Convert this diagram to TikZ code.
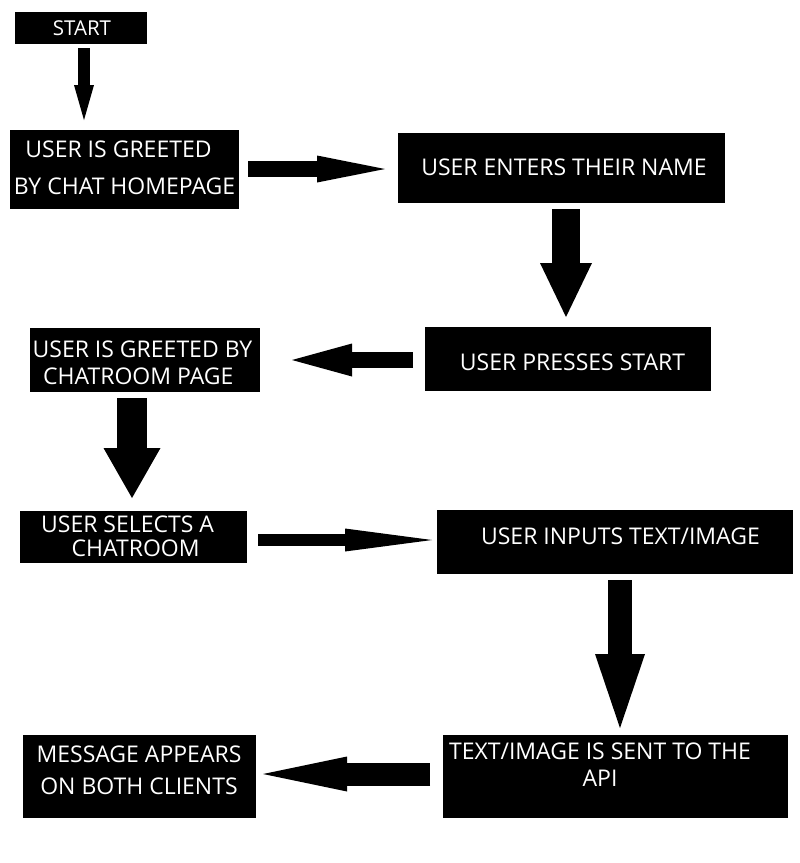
\documentclass[tikz,border=0pt]{standalone}
\usepackage{fontspec}
\setmainfont{Open Sans}
\usetikzlibrary{arrows.meta}
\newcommand\boxtext[3]{\raisebox{#2}[0pt][0pt]{\makebox[0pt][c]{\hspace*{#1}\hspace*{#1}\begin{tabular}[b]{@{}c@{}}#3\end{tabular}}}}
\tikzset{
  box/.style={fill=black, text=white, inner sep=0pt},
  barrow/.style n args={3}{draw=black, line width=#1, -{Triangle[width=#2, length=#3, line width=0pt]}}
}
\begin{document}
\begin{tikzpicture}[x=1pt, y=-1pt]
\fill[white] (0,0) rectangle (800,863);
\useasboundingbox (0,0) rectangle (800,863);

\node[box, minimum width=131.7pt, minimum height=32pt, font=\fontsize{20.5}{24}\selectfont] (start) at (80.8,28) {\boxtext{1.2pt}{-7pt}{START}};
\node[box, minimum width=229pt, minimum height=79pt, font=\fontsize{23}{37}\selectfont] (home) at (124.5,169.5) {\boxtext{0pt}{-25pt}{USER IS GREETED\hspace*{12pt}\\BY CHAT HOMEPAGE}};
\node[box, minimum width=327pt, minimum height=70pt, font=\fontsize{23}{27}\selectfont] (name) at (561.5,168) {\boxtext{2.5pt}{-7pt}{USER ENTERS THEIR NAME}};
\node[box, minimum width=286pt, minimum height=64pt, font=\fontsize{23}{27}\selectfont] (press) at (568,359) {\boxtext{4.5pt}{-11pt}{USER PRESSES START}};
\node[box, minimum width=230pt, minimum height=64pt, font=\fontsize{23}{27}\selectfont] (room) at (145,360) {\boxtext{-2.5pt}{-24pt}{USER IS GREETED BY\\CHATROOM PAGE\hspace*{8.4pt}}};
\node[box, minimum width=226.7pt, minimum height=52pt, font=\fontsize{23}{24}\selectfont] (select) at (133.3,537) {\boxtext{2.3pt}{-19.7pt}{USER SELECTS A\hspace*{16pt}\\CHATROOM}};
\node[box, minimum width=356pt, minimum height=64pt, font=\fontsize{23}{27}\selectfont] (input) at (615,542) {\boxtext{5.5pt}{-2pt}{USER INPUTS TEXT/IMAGE}};
\node[box, minimum width=345pt, minimum height=83pt, font=\fontsize{23}{27}\selectfont] (sent) at (615.5,776.5) {\boxtext{-15.5pt}{-10.2pt}{TEXT/IMAGE IS SENT TO THE\\API}};
\node[box, minimum width=233pt, minimum height=83pt, font=\fontsize{23}{32}\selectfont] (msg) at (139.5,776.5) {\boxtext{-0.5pt}{-17.8pt}{MESSAGE APPEARS\\ON BOTH CLIENTS}};

\coordinate (a1s) at (84,48);   \coordinate (a1e) at (84,120);
\coordinate (a2s) at (248,169); \coordinate (a2e) at (385,169);
\coordinate (a3s) at (566,209); \coordinate (a3e) at (566,317);
\coordinate (a4s) at (413,360); \coordinate (a4e) at (292,360);
\coordinate (a5s) at (132,398); \coordinate (a5e) at (132,498);
\coordinate (a6s) at (258,540); \coordinate (a6e) at (432,540);
\coordinate (a7s) at (620,580); \coordinate (a7e) at (620,728);
\coordinate (a8s) at (430,774); \coordinate (a8e) at (263,774);

\draw[barrow={12pt}{20pt}{35pt}] (a1s) -- (a1e);
\draw[barrow={16pt}{27pt}{68pt}] (a2s) -- (a2e);
\draw[barrow={28pt}{52pt}{54pt}] (a3s) -- (a3e);
\draw[barrow={16pt}{33pt}{60pt}] (a4s) -- (a4e);
\draw[barrow={30pt}{57pt}{50pt}] (a5s) -- (a5e);
\draw[barrow={12pt}{23pt}{87pt}] (a6s) -- (a6e);
\draw[barrow={24pt}{50pt}{74pt}] (a7s) -- (a7e);
\draw[barrow={23pt}{35pt}{84pt}] (a8s) -- (a8e);
\end{tikzpicture}
\end{document}
